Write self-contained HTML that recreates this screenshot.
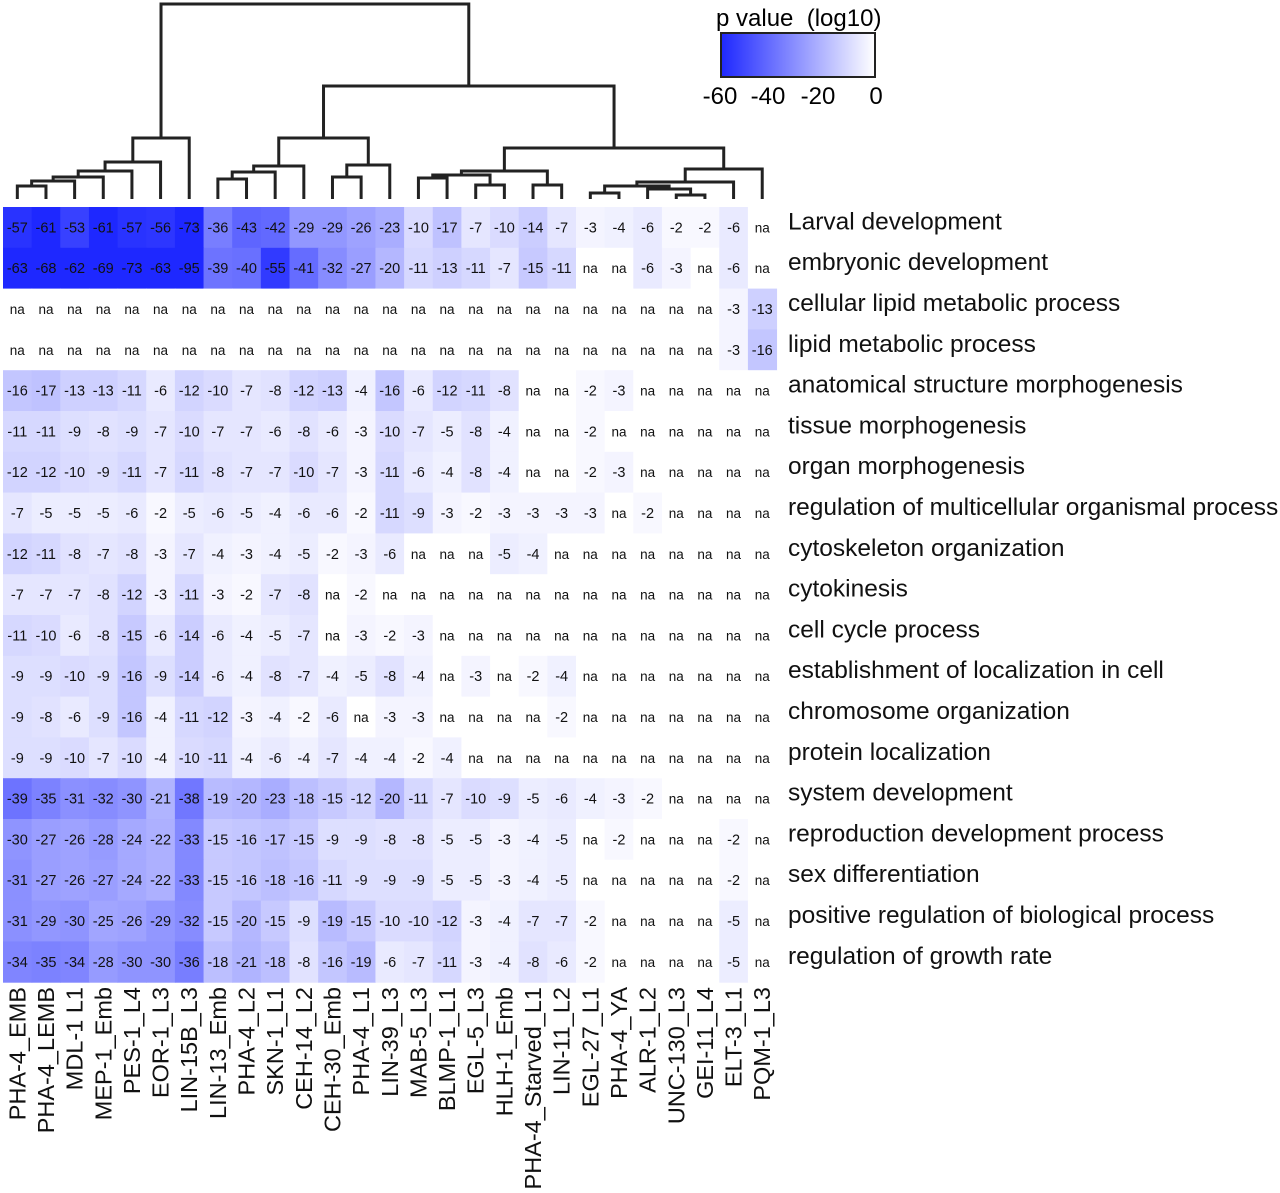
<!DOCTYPE html>
<html><head><meta charset="utf-8"><style>
body{margin:0;background:#fff;}
svg{display:block;font-family:"Liberation Sans",sans-serif;}
</style></head><body>
<svg id="chart" width="1280" height="1193" viewBox="0 0 1280 1193">
<defs><linearGradient id="lg" x1="0" x2="1"><stop offset="0" stop-color="rgb(30,40,255)"/><stop offset="1" stop-color="#fff"/></linearGradient></defs>
<g id="dendro" stroke="#222" stroke-width="3" fill="none"></g>
<g id="cells"></g>
<g id="rowlabels"></g>
<g id="collabels"></g>
<g>
<text x="716" y="26" font-size="24" xml:space="preserve">p value  (log10)</text>
<rect x="721" y="33" width="154" height="44" fill="url(#lg)" stroke="#222" stroke-width="2"/>
<text x="720" y="104" font-size="24" text-anchor="middle">-60</text>
<text x="768" y="104" font-size="24" text-anchor="middle">-40</text>
<text x="818" y="104" font-size="24" text-anchor="middle">-20</text>
<text x="876" y="104" font-size="24" text-anchor="middle">0</text>
</g>
</svg>
<script>
const columns=["PHA-4_EMB","PHA-4_LEMB","MDL-1 L1","MEP-1_Emb","PES-1_L4","EOR-1_L3","LIN-15B_L3","LIN-13_Emb","PHA-4_L2","SKN-1_L1","CEH-14_L2","CEH-30_Emb","PHA-4_L1","LIN-39_L3","MAB-5_L3","BLMP-1_L1","EGL-5_L3","HLH-1_Emb","PHA-4_Starved_L1","LIN-11_L2","EGL-27_L1","PHA-4_YA","ALR-1_L2","UNC-130_L3","GEI-11_L4","ELT-3_L1","PQM-1_L3"];
const rows=["Larval development","embryonic development","cellular lipid metabolic process","lipid metabolic process","anatomical structure morphogenesis","tissue morphogenesis","organ morphogenesis","regulation of multicellular organismal process","cytoskeleton organization","cytokinesis","cell cycle process","establishment of localization in cell","chromosome organization","protein localization","system development","reproduction development process","sex differentiation","positive regulation of biological process","regulation of growth rate"];
const N=null;
const values=[
[-57,-61,-53,-61,-57,-56,-73,-36,-43,-42,-29,-29,-26,-23,-10,-17,-7,-10,-14,-7,-3,-4,-6,-2,-2,-6,N],
[-63,-68,-62,-69,-73,-63,-95,-39,-40,-55,-41,-32,-27,-20,-11,-13,-11,-7,-15,-11,N,N,-6,-3,N,-6,N],
[N,N,N,N,N,N,N,N,N,N,N,N,N,N,N,N,N,N,N,N,N,N,N,N,N,-3,-13],
[N,N,N,N,N,N,N,N,N,N,N,N,N,N,N,N,N,N,N,N,N,N,N,N,N,-3,-16],
[-16,-17,-13,-13,-11,-6,-12,-10,-7,-8,-12,-13,-4,-16,-6,-12,-11,-8,N,N,-2,-3,N,N,N,N,N],
[-11,-11,-9,-8,-9,-7,-10,-7,-7,-6,-8,-6,-3,-10,-7,-5,-8,-4,N,N,-2,N,N,N,N,N,N],
[-12,-12,-10,-9,-11,-7,-11,-8,-7,-7,-10,-7,-3,-11,-6,-4,-8,-4,N,N,-2,-3,N,N,N,N,N],
[-7,-5,-5,-5,-6,-2,-5,-6,-5,-4,-6,-6,-2,-11,-9,-3,-2,-3,-3,-3,-3,N,-2,N,N,N,N],
[-12,-11,-8,-7,-8,-3,-7,-4,-3,-4,-5,-2,-3,-6,N,N,N,-5,-4,N,N,N,N,N,N,N,N],
[-7,-7,-7,-8,-12,-3,-11,-3,-2,-7,-8,N,-2,N,N,N,N,N,N,N,N,N,N,N,N,N,N],
[-11,-10,-6,-8,-15,-6,-14,-6,-4,-5,-7,N,-3,-2,-3,N,N,N,N,N,N,N,N,N,N,N,N],
[-9,-9,-10,-9,-16,-9,-14,-6,-4,-8,-7,-4,-5,-8,-4,N,-3,N,-2,-4,N,N,N,N,N,N,N],
[-9,-8,-6,-9,-16,-4,-11,-12,-3,-4,-2,-6,N,-3,-3,N,N,N,N,-2,N,N,N,N,N,N,N],
[-9,-9,-10,-7,-10,-4,-10,-11,-4,-6,-4,-7,-4,-4,-2,-4,N,N,N,N,N,N,N,N,N,N,N],
[-39,-35,-31,-32,-30,-21,-38,-19,-20,-23,-18,-15,-12,-20,-11,-7,-10,-9,-5,-6,-4,-3,-2,N,N,N,N],
[-30,-27,-26,-28,-24,-22,-33,-15,-16,-17,-15,-9,-9,-8,-8,-5,-5,-3,-4,-5,N,-2,N,N,N,-2,N],
[-31,-27,-26,-27,-24,-22,-33,-15,-16,-18,-16,-11,-9,-9,-9,-5,-5,-3,-4,-5,N,N,N,N,N,-2,N],
[-31,-29,-30,-25,-26,-29,-32,-15,-20,-15,-9,-19,-15,-10,-10,-12,-3,-4,-7,-7,-2,N,N,N,N,-5,N],
[-34,-35,-34,-28,-30,-30,-36,-18,-21,-18,-8,-16,-19,-6,-7,-11,-3,-4,-8,-6,-2,N,N,N,N,-5,N]];

const NS="http://www.w3.org/2000/svg";
const X0=3,CW=28.65,Y0=207,RH=40.8;
const xAt=i=>X0+i*CW, yAt=j=>Y0+j*RH;
function color(v){if(v===null)return "#fff";const t=Math.min(Math.abs(v)/60,1);
 return `rgb(${Math.round(255-225*t)},${Math.round(255-215*t)},255)`;}
function mk(tag,attrs,parent){const e=document.createElementNS(NS,tag);for(const k in attrs)e.setAttribute(k,attrs[k]);parent.appendChild(e);return e;}
const cells=document.getElementById('cells');
rows.forEach((r,j)=>{columns.forEach((c,i)=>{const v=values[j][i];
 const rc=mk('rect',{x:xAt(i),y:yAt(j),width:CW+0.5,height:RH+0.5,fill:color(v)},cells);
 
 
 const t=mk('text',{x:xAt(i)+CW/2,y:yAt(j)+RH/2+5,'font-size':v===null?13.5:14.5,'text-anchor':'middle',fill:'#111'},cells);
 t.textContent=v===null?'na':String(v);
 
 });});
const rl=document.getElementById('rowlabels');
rows.forEach((r,j)=>{const t=mk('text',{x:788,y:yAt(j)+RH/2+2,'font-size':24.5,fill:'#111'},rl);t.textContent=r;
 
 });
const cl=document.getElementById('collabels');
columns.forEach((c,i)=>{const cx=xAt(i)+CW/2+8;const t=mk('text',{x:0,y:0,'font-size':23.5,'text-anchor':'end',fill:'#111',transform:`translate(${cx},987) rotate(-90)`},cl);t.textContent=c;
 
 });
const d=document.getElementById('dendro');
const cxp=i=>xAt(i)+CW/2, L=199;
function br(x1,y1,x2,y2,top){mk('path',{d:`M${x1},${y1}V${top}H${x2}V${y2}`},d);return (x1+x2)/2;}
let m=br(cxp(0),L,cxp(1),L,186);
m=br(m,186,cxp(2),L,181);m=br(m,181,cxp(3),L,177);m=br(m,177,cxp(4),L,171);m=br(m,171,cxp(5),L,162);
const leftRoot=br(m,162,cxp(6),L,138);
let a=br(cxp(7),L,cxp(8),L,179);a=br(a,179,cxp(9),L,172);a=br(a,172,cxp(10),L,166);
let b=br(cxp(11),L,cxp(12),L,177);b=br(b,177,cxp(13),L,165);
const mid=br(a,166,b,165,138);
let p=br(cxp(14),L,cxp(15),L,178);let q=br(cxp(16),L,cxp(17),L,185);let s=br(cxp(18),L,cxp(19),L,185);
let pq=br(p,178,q,185,175);const g1=br(pq,175,s,185,171);
let u=br(cxp(20),L,cxp(21),L,193);let w=br(cxp(23),L,cxp(24),L,195);w=br(cxp(22),L,w,195,189);
let uw=br(u,193,w,189,186);uw=br(uw,186,cxp(25),L,182);const g2=br(uw,182,cxp(26),L,169);
const right=br(g1,171,g2,169,148);
const mr=br(mid,138,right,148,86);
br(leftRoot,138,mr,86,4);
</script>
</body></html>
